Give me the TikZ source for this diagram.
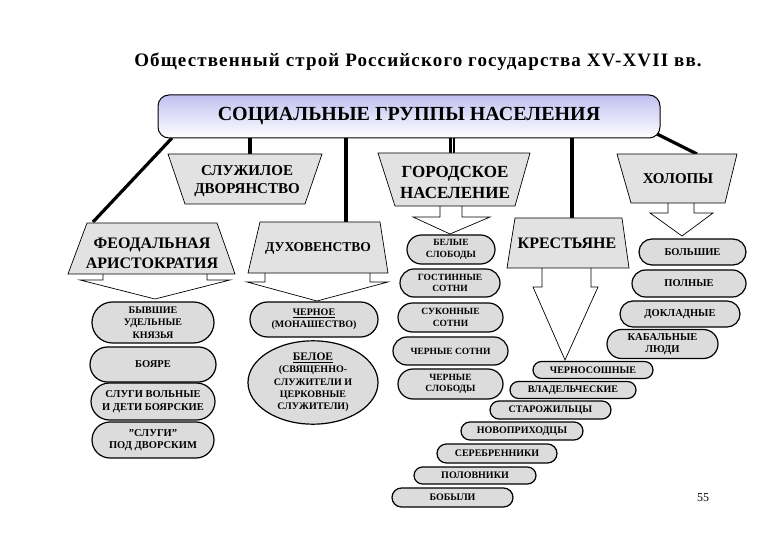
\documentclass[tikz,border=0pt]{standalone}
\usepackage{fontspec}
\setmainfont{LiberationSerif}[Extension=.ttf, UprightFont=*-Regular, BoldFont=*-Bold, ItalicFont=*-Italic, BoldItalicFont=*-BoldItalic]
\usetikzlibrary{shapes.misc,shapes.geometric}
\definecolor{marble}{RGB}{220,220,220}
\definecolor{trapfill}{RGB}{226,226,226}
\definecolor{lav}{RGB}{192,192,240}
\tikzset{
  conn/.style={line width=3.2pt, black},
  thinconn/.style={line width=3pt, black, double=white, double distance=0.9pt},
  trap/.style={draw=black, line width=0.7pt, fill=trapfill},
  blockarrow/.style={draw=black, line width=0.7pt, fill=white, line join=miter},
  traptext/.style={align=center, inner sep=0pt, font=\bfseries\fontsize{15}{20}\selectfont},
  mainbox/.style={draw, line width=1pt, rounded corners=11pt, top color=lav, bottom color=white,
     minimum width=502pt, minimum height=43pt, inner sep=0pt, font=\bfseries\fontsize{20}{22}\selectfont},
  pill/.style={rounded rectangle, draw=black, line width=1.2pt, fill=marble, inner sep=0pt,
     align=center, font=\bfseries\fontsize{9.5}{11.5}\selectfont},
  lpill/.style={pill, font=\bfseries\fontsize{10.5}{12}\selectfont},
  stair/.style={pill, font=\bfseries\fontsize{10}{11}\selectfont},
  oval/.style={ellipse, draw=black, line width=1.2pt, fill=marble, inner sep=0pt,
     align=center, font=\bfseries\fontsize{10}{12.3}\selectfont},
}
\begin{document}
\begin{tikzpicture}[x=1pt,y=-1pt]
\useasboundingbox (0,0) rectangle (780,540);
\fill[white] (0,0) rectangle (780,540);

% title
\node[font=\bfseries\fontsize{19}{22}\selectfont\addfontfeature{LetterSpace=6}, inner sep=0pt] (title) at (418,62)
  {Общественный строй Российского государства XV-XVII вв.};

% connector end points
\coordinate (mSW) at (172,138);
\coordinate (mSE) at (655,133);
\coordinate (feudtop) at (93,222);
\coordinate (sluzhtop) at (250,154);
\coordinate (duchtop) at (346,222);
\coordinate (gorodtop) at (452,153);
\coordinate (kresttop) at (572,218);
\coordinate (kholtop) at (697,154);

% connectors
\draw[conn] (mSW) -- (feudtop);
\draw[conn] (mSE) -- (kholtop);
\draw[conn] (250,135) -- (sluzhtop);
\draw[conn] (346,135) -- (duchtop);
\draw[thinconn] (452,135) -- (gorodtop);
\draw[conn] (572,135) -- (kresttop);

% main box
\node[mainbox] (main) at (409,116.5) {СОЦИАЛЬНЫЕ ГРУППЫ НАСЕЛЕНИЯ};

% block arrows
\draw[blockarrow] (103,272) -- (103,280) -- (80,280) -- (155,299) -- (230,280) -- (207,280) -- (207,272);
\draw[blockarrow] (265,271) -- (265,282) -- (247,282) -- (317,301) -- (388,282) -- (370,282) -- (370,271);
\draw[blockarrow] (440,204) -- (440,217) -- (413,217) -- (450,234) -- (490,217) -- (462,217) -- (462,204);
\draw[blockarrow] (668,201) -- (668,213) -- (650,213) -- (682,236) -- (713,213) -- (694,213) -- (694,201);
\draw[blockarrow] (542,266) -- (542,287) -- (533,287) -- (565,360) -- (598,287) -- (591,287) -- (591,266);

% trapezoids
\path[trap] (87,223) -- (217,223) -- (235,274) -- (68,274) -- cycle;
\node[traptext, font=\bfseries\fontsize{16}{20}\selectfont] (feud) at (152,253) {ФЕОДАЛЬНАЯ\\АРИСТОКРАТИЯ};
\path[trap] (168,154) -- (322,154) -- (305,204) -- (185,204) -- cycle;
\node[traptext, font=\bfseries\fontsize{15}{18}\selectfont] (sluzh) at (247,181) {СЛУЖИЛОЕ\\ДВОРЯНСТВО};
\path[trap] (378,153) -- (530,153) -- (515,206) -- (395,206) -- cycle;
\node[traptext, font=\bfseries\fontsize{17}{21}\selectfont] (gorod) at (455,182) {ГОРОДСКОЕ\\НАСЕЛЕНИЕ};
\path[trap] (617,154) -- (737,154) -- (725,203) -- (631,203) -- cycle;
\node[traptext, font=\bfseries\fontsize{15}{18}\selectfont] (khol) at (678,179) {ХОЛОПЫ};
\path[trap] (260,222) -- (380,222) -- (388,273) -- (248,273) -- cycle;
\node[traptext, font=\bfseries\fontsize{13.5}{18}\selectfont] (duch) at (318,248) {ДУХОВЕНСТВО};
\path[trap] (515,218) -- (622,218) -- (629,268) -- (507,268) -- cycle;
\node[traptext, font=\bfseries\fontsize{16}{20}\selectfont] (krest) at (567,243) {КРЕСТЬЯНЕ};

% left column
\node[lpill, font=\bfseries\fontsize{10}{12.5}\selectfont, minimum width=122pt, minimum height=41pt] (kn) at (153,322.5) {БЫВШИЕ\\УДЕЛЬНЫЕ\\КНЯЗЬЯ};
\node[lpill, minimum width=126pt, minimum height=35pt] (boy) at (153,364.5) {БОЯРЕ};
\node[lpill, minimum width=124pt, minimum height=37pt] (slu) at (153,401.5) {СЛУГИ ВОЛЬНЫЕ\\[1.5pt]И ДЕТИ БОЯРСКИЕ};
\node[lpill, minimum width=122pt, minimum height=36pt] (pod) at (153,440) {"СЛУГИ"\\ПОД ДВОРСКИМ};

% clergy
\node[pill, font=\bfseries\fontsize{10}{12}\selectfont, minimum width=128pt, minimum height=35pt] (cher) at (314,319.5) {\underline{ЧЕРНОЕ}\\(МОНАШЕСТВО)};
\node[oval, minimum width=130pt, minimum height=81pt] (bel) at (313,382.5)
  {{\fontsize{11.5}{12.5}\selectfont\underline{БЕЛОЕ}}\\(СВЯЩЕННО-\\СЛУЖИТЕЛИ И\\ЦЕРКОВНЫЕ\\СЛУЖИТЕЛИ)};

% town
\node[pill, minimum width=88pt, minimum height=29pt] (bs) at (451,249.5) {БЕЛЫЕ\\СЛОБОДЫ};
\node[pill, minimum width=100pt, minimum height=28pt] (gs) at (450,283) {ГОСТИННЫЕ\\СОТНИ};
\node[pill, minimum width=105pt, minimum height=29pt] (ss) at (450.5,317.5) {СУКОННЫЕ\\СОТНИ};
\node[pill, minimum width=115pt, minimum height=28pt] (chs) at (450.5,351) {ЧЕРНЫЕ СОТНИ};
\node[pill, minimum width=105pt, minimum height=30pt] (chsl) at (450.5,384) {ЧЕРНЫЕ\\СЛОБОДЫ};

% kholopy
\node[lpill, minimum width=107pt, minimum height=26pt] (bol) at (692.5,252) {БОЛЬШИЕ};
\node[lpill, minimum width=114pt, minimum height=27pt] (pol) at (689,283.5) {ПОЛНЫЕ};
\node[lpill, minimum width=120pt, minimum height=26pt] (dok) at (680,314) {ДОКЛАДНЫЕ};
\node[lpill, font=\bfseries\fontsize{10.5}{11.5}\selectfont, minimum width=111pt, minimum height=29pt] (kab) at (662.5,344) {КАБАЛЬНЫЕ\\ЛЮДИ};

% peasants staircase
\node[stair, minimum width=120pt, minimum height=17pt] (p1) at (593,370) {ЧЕРНОСОШНЫЕ};
\node[stair, minimum width=126pt, minimum height=17pt] (p2) at (573,390) {ВЛАДЕЛЬЧЕСКИЕ};
\node[stair, minimum width=121pt, minimum height=18pt] (p3) at (550.5,410) {СТАРОЖИЛЬЦЫ};
\node[stair, minimum width=122pt, minimum height=18pt] (p4) at (522,431) {НОВОПРИХОДЦЫ};
\node[stair, minimum width=120pt, minimum height=19pt] (p5) at (497,453.5) {СЕРЕБРЕННИКИ};
\node[stair, minimum width=122pt, minimum height=17pt] (p6) at (475,475.5) {ПОЛОВНИКИ};
\node[stair, minimum width=121pt, minimum height=19pt] (p7) at (452.5,497.5) {БОБЫЛИ};

% page number
\node[font=\fontsize{12}{14}\selectfont, inner sep=0pt] (pg) at (703,498) {55};
\end{tikzpicture}
\end{document}
